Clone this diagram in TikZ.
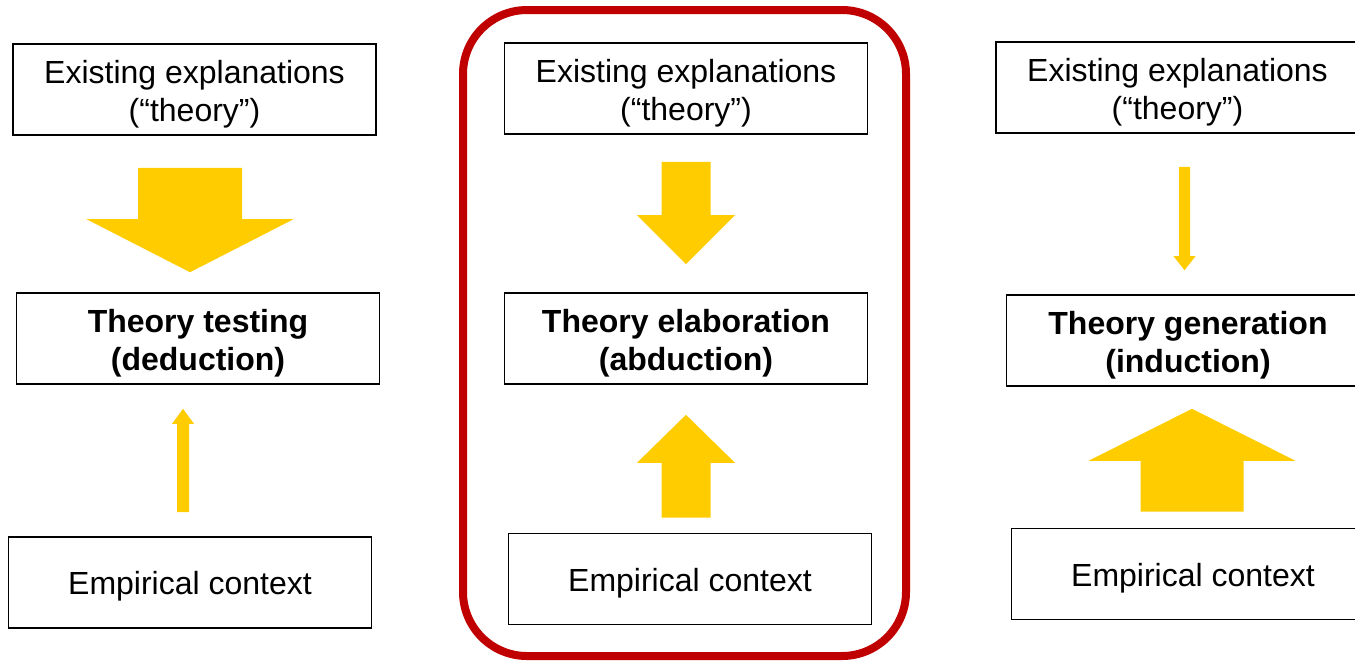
\documentclass[tikz,border=0pt]{standalone}
\usepackage{fontspec}
\setmainfont{Liberation Sans}
\usetikzlibrary{calc}
\definecolor{ArrowGold}{RGB}{255,204,0}
\definecolor{FrameRed}{RGB}{192,0,0}
\tikzset{
  textbox/.style={draw=black,line width=0.8pt,minimum width=181.5pt,
    minimum height=45.5pt,inner sep=0pt,align=center,
    font=\fontsize{16}{19}\selectfont,
    execute at begin node={\rule{0pt}{15.5pt}}},
  modebox/.style={textbox,font=\fontsize{16}{19}\selectfont\bfseries},
  frame/.style={draw=FrameRed,line width=4pt,rounded corners=32pt},
  blockfill/.style={fill=ArrowGold}
}
% strut for the first of two lines
\newcommand{\topstrut}{\rule{0pt}{16.5pt}}
% block arrow: start, tip, half shaft width, half head width, head length
\newcommand{\blockarrow}[5]{%
  \coordinate (ba-s) at #1;
  \coordinate (ba-e) at #2;
  \coordinate (ba-h) at ($(ba-e)!#5!(ba-s)$);
  \fill[blockfill] ($(ba-s)!#3!90:(ba-e)$) -- ($(ba-h)!#3!-90:(ba-s)$)
    -- ($(ba-h)!#4!-90:(ba-s)$) -- (ba-e) -- ($(ba-h)!#4!90:(ba-s)$)
    -- ($(ba-h)!#3!90:(ba-s)$) -- ($(ba-s)!#3!-90:(ba-e)$) -- cycle;
}

\begin{document}
\begin{tikzpicture}[x=0.5pt,y=-0.5pt]
  \useasboundingbox (0,0) rectangle (1355,661);
  % deduction
  \node[textbox] (exp1) at (194.5,89.5) {\topstrut Existing explanations\\(“theory”)};
  \node[modebox] (test1) at (198,338.5) {\topstrut Theory testing\\(deduction)};
  \node[textbox] (emp1) at (190,582.5) {Empirical context};
  \blockarrow{($(exp1.south)+(-4.5,32)$)}{($(test1.north)+(-8,-20)$)}{26pt}{51.75pt}{26.5pt}
  \blockarrow{($(emp1.north)+(-7,-24)$)}{($(test1.south)+(-15,24)$)}{3pt}{5.5pt}{7.5pt}
  % abduction
  \draw[frame] (463,10) rectangle (906,656);
  \node[textbox] (exp2) at (686,88.5) {\topstrut Existing explanations\\(“theory”)};
  \node[modebox] (elab2) at (686,338.5) {\topstrut Theory elaboration\\(abduction)};
  \node[textbox] (emp2) at (690,579) {Empirical context};
  \blockarrow{($(exp2.south)+(0,27)$)}{($(elab2.north)+(0,-28)$)}{12.25pt}{24.5pt}{24.5pt}
  \blockarrow{($(emp2.north)+(-4,-15)$)}{($(elab2.south)+(0,30)$)}{12.25pt}{24.5pt}{24pt}
  % induction
  \node[textbox] (exp3) at (1177.5,87.5) {\topstrut Existing explanations\\(“theory”)};
  \node[modebox] (gen3) at (1188,340.5) {\topstrut Theory generation\\(induction)};
  \node[textbox] (emp3) at (1193,574) {Empirical context};
  \blockarrow{($(exp3.south)+(7,33)$)}{($(gen3.north)+(-3.5,-24)$)}{2.75pt}{5.5pt}{7pt}
  \blockarrow{($(emp3.north)+(-1,-16)$)}{($(gen3.south)+(4,22)$)}{25.75pt}{51.75pt}{26pt}
\end{tikzpicture}
\end{document}
